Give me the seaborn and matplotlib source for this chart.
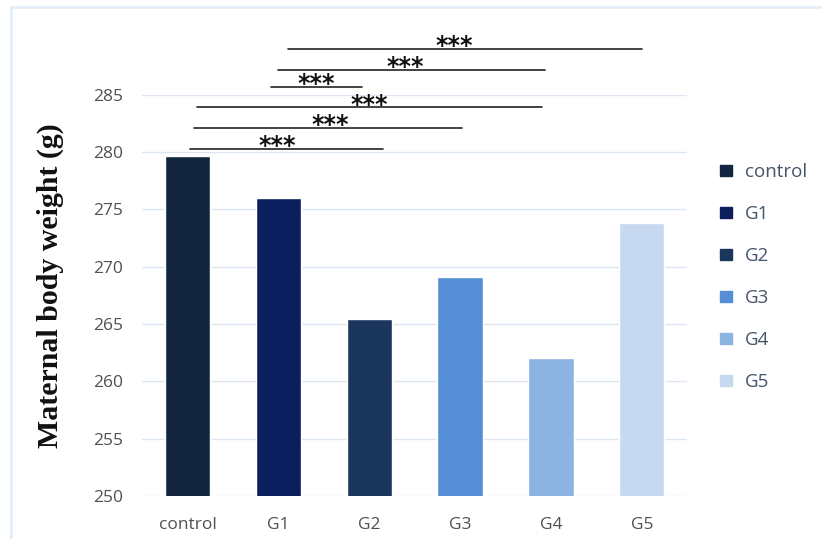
import matplotlib
matplotlib.use("Agg")
import matplotlib.pyplot as plt
from matplotlib.lines import Line2D
from matplotlib.patches import Patch
import pandas as pd
import seaborn as sns

# data
groups = ["control", "G1", "G2", "G3", "G4", "G5"]
weights = [279.7, 276.0, 265.4, 269.1, 262.0, 273.8]
colors = ["#14263F", "#0B1F5E", "#1B365D", "#558ED5", "#8DB3E2", "#C6D9F1"]

# significance brackets: (from group, to group, height, label)
pairs_from = ["G1", "G1", "G1", "control", "control", "control"]
pairs_to = ["G5", "G4", "G2", "G4", "G3", "G2"]
bracket_y = [289.0, 287.2, 285.7, 283.9, 282.1, 280.3]
stars = ["***"] * 6

df = pd.DataFrame({"group": groups, "weight": weights})

sns.set_style("white")
fig = plt.figure(figsize=(8.22, 5.39), dpi=100)
ax = fig.add_axes([0.173, 0.08, 0.663, 0.744])

sns.barplot(data=df, x="group", y="weight", hue="group", palette=colors,
            width=0.5, saturation=1, legend=False, ax=ax, zorder=3)

ax.set_ylim(250, 285)
ax.set_xlim(-0.5, 5.5)
ax.set_yticks(range(250, 286, 5))
ax.grid(axis="y", color="#DCE6F2", linewidth=1, zorder=0)
for s in ax.spines.values():
    s.set_visible(False)
ax.tick_params(length=0, labelsize=12.5, labelcolor="#505050", pad=14)
ax.tick_params(axis="x", pad=15)
for lab in ax.get_xticklabels() + ax.get_yticklabels():
    lab.set_family("Open Sans")
ax.set_xlabel("")
ax.set_ylabel("Maternal body weight (g)", fontsize=21.5, fontweight="bold",
              family="Liberation Serif", color="#111111")
ax.yaxis.set_label_coords(-0.143, 0.525)

# bracket lines with stars (slight offsets to mimic the hand-drawn look)
idx = {g: i for i, g in enumerate(groups)}
left_off = [0.1, -0.01, -0.08, 0.1, 0.07, 0.03]
right_off = [0.0, -0.07, -0.08, -0.1, 0.02, 0.15]
star_frac = [0.47, 0.48, 0.5, 0.5, 0.51, 0.45]
for a, b, y, t, lo, ro, sf in zip(pairs_from, pairs_to, bracket_y, stars,
                                  left_off, right_off, star_frac):
    x0 = idx[a] + lo
    x1 = idx[b] + ro
    ax.plot([x0, x1], [y, y], color="#222222", lw=1.2, clip_on=False, zorder=4)
    ax.text(x0 + (x1 - x0) * sf, y - 0.8, t, ha="center", va="bottom",
            fontsize=17, fontweight="bold", family="DejaVu Sans",
            color="#111111", clip_on=False, zorder=5)

handles = [Patch(facecolor=c, edgecolor=c) for c in colors]
leg = ax.legend(handles, groups, loc="upper left", bbox_to_anchor=(1.03, 0.872),
                frameon=False, handlelength=0.6, handleheight=0.6,
                handletextpad=0.7, labelspacing=1.28,
                prop={"family": "Open Sans", "size": 13.5})
for t in leg.get_texts():
    t.set_color("#44546A")

# light frame at the top and left of the image
fig.add_artist(Line2D([0.0135, 1.0], [0.987, 0.987], color="#E4EDF8", lw=2,
                      transform=fig.transFigure))
fig.add_artist(Line2D([0.0135, 0.0135], [0.0, 0.987], color="#E4EDF8", lw=2,
                      transform=fig.transFigure))

fig.savefig("out.png", dpi=100)
